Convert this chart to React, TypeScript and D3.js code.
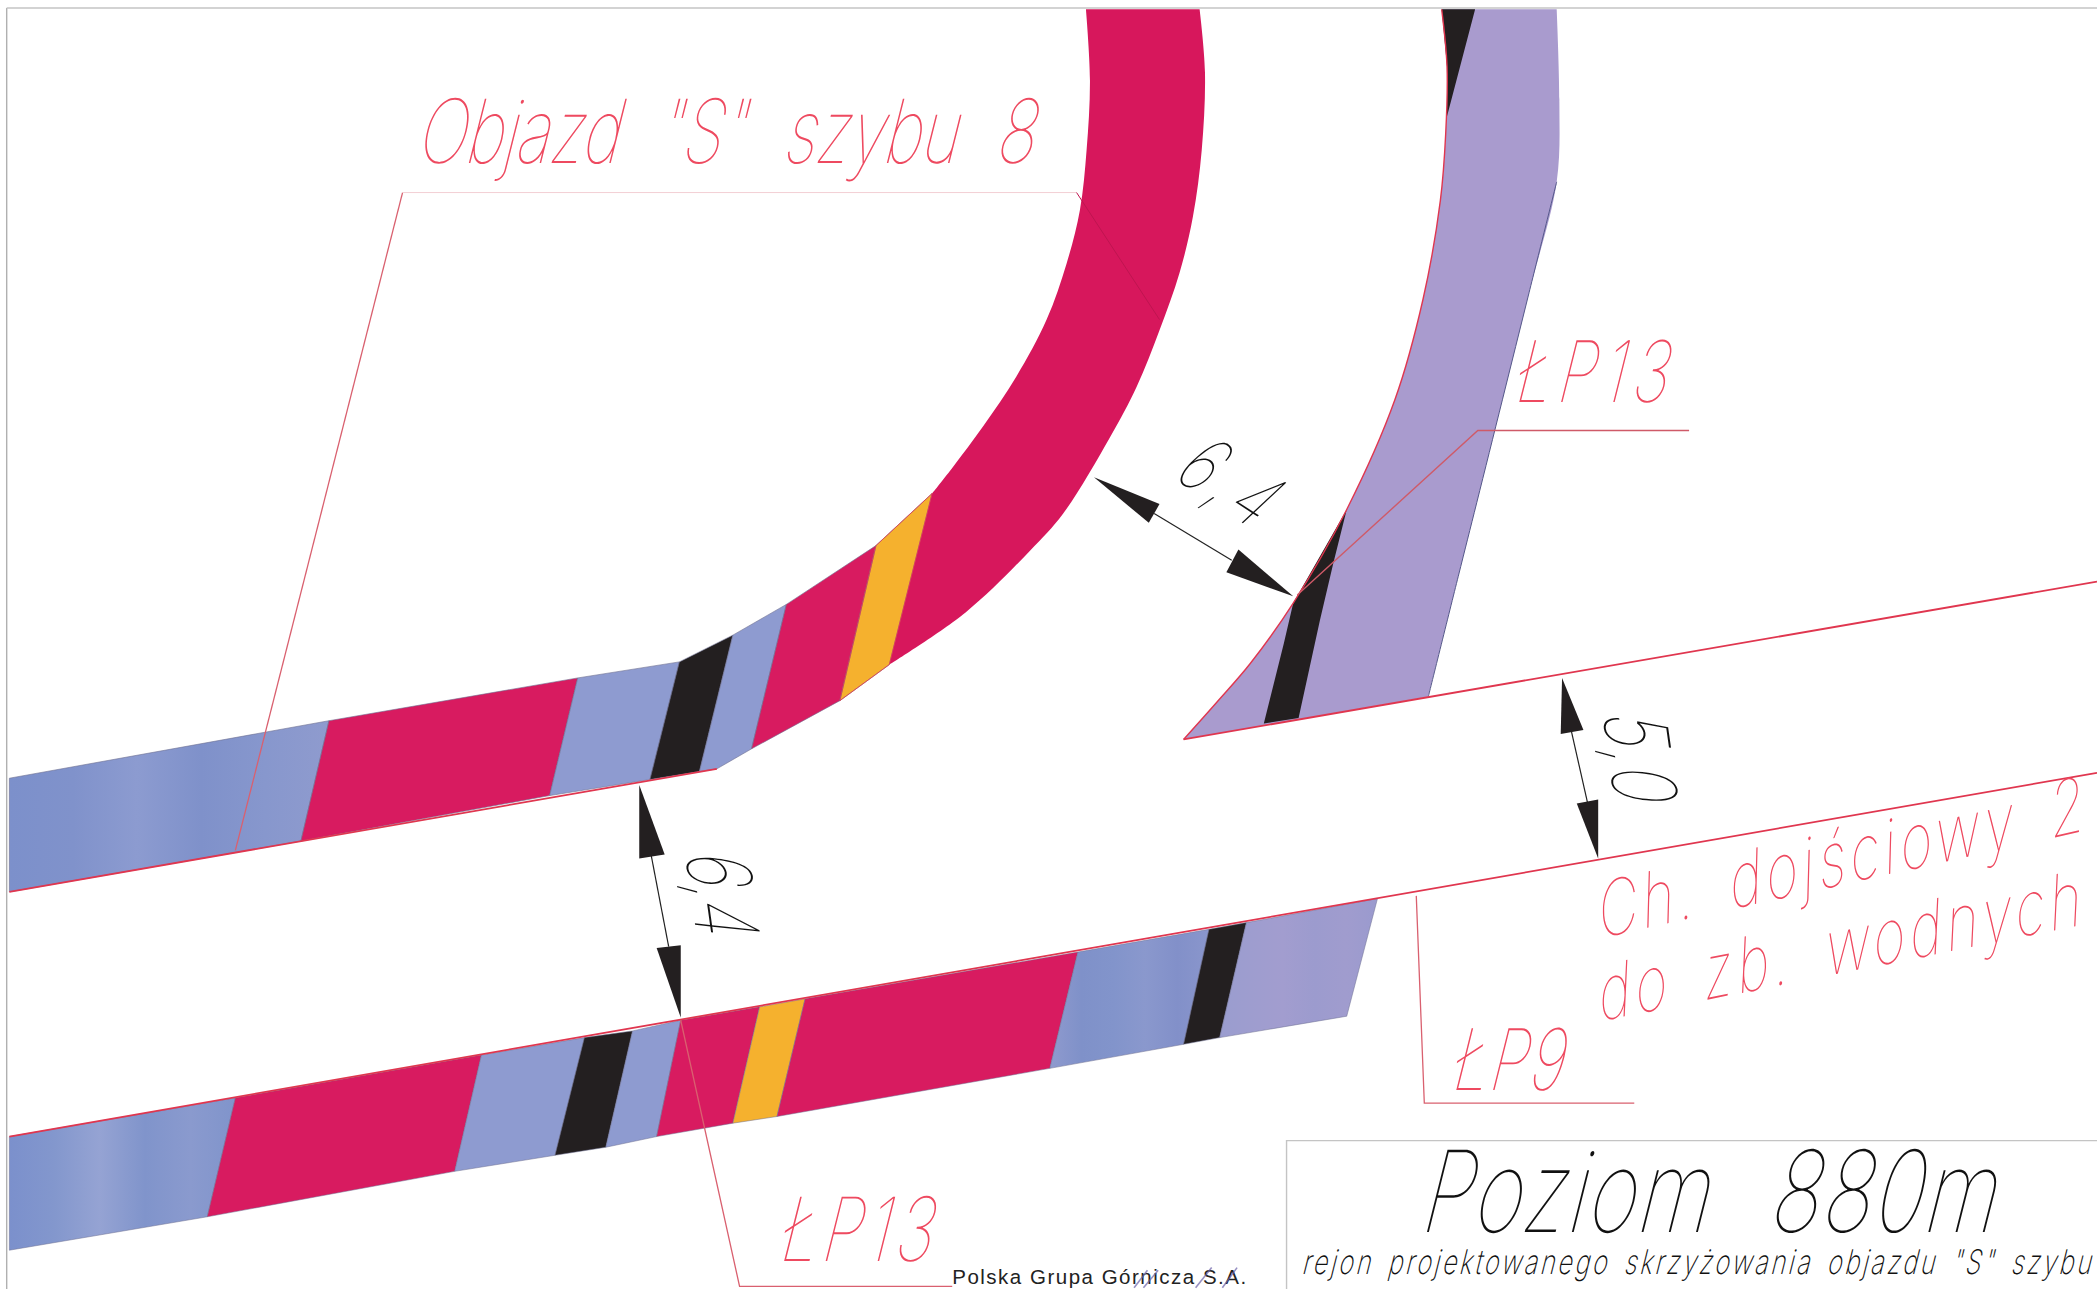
import React from "react";
import * as d3 from "d3";

type P = [number, number];

// ---- drawing units (map units)
const DOMAIN_W = 1568;
const DOMAIN_H = 964;

const crimson = "#d81b60";
const crimsonDeep = "#d7175c";
const blue = "#8e9bd0";
const lavender = "#a99bce";
const orange = "#f5b12e";
const black = "#231f20";
const redLine = "#e0364f";
const textRed = "#ee4a60";

// upper road bands
const upperBands: { c: string; pts: P[] }[] = [
  { c: "url(#bandBlueA)", pts: [[7, 582], [246, 539], [225, 629], [7, 667]] },
  { c: crimson, pts: [[246, 539], [432, 507], [411, 595], [225, 629]] },
  { c: blue, pts: [[432, 507], [508, 495], [486, 583], [411, 595]] },
  { c: black, pts: [[508, 495], [548, 475], [523, 577], [486, 583]] },
  { c: blue, pts: [[548, 475], [588, 452], [562, 560], [536, 575], [523, 577]] },
  { c: crimson, pts: [[588, 452], [655, 408], [628, 524], [562, 560]] },
  { c: orange, pts: [[655, 408], [697, 369], [665, 497], [628, 524]] },
];
const upperCurveInner: P[] = [[697, 369], [712.7, 349], [735, 319], [760, 281.6], [782.6, 239], [797.6, 196.8], [807.5, 157], [812.5, 112], [815, 60], [812, 7]];
const upperCurveOuter: P[] = [[897, 7], [901, 54], [898.6, 112], [892, 162], [882, 204], [867, 247], [850, 289], [830, 327], [795, 384], [770, 412], [722, 458], [665, 497]];

// lower road bands
const lowerBands: { c: string; pts: P[] }[] = [
  { c: "url(#bandBlueB)", pts: [[7, 850], [176, 821], [155, 910], [7, 935]] },
  { c: crimson, pts: [[176, 821], [360, 789], [340, 876], [155, 910]] },
  { c: blue, pts: [[360, 789], [437, 776], [415, 864], [340, 876]] },
  { c: black, pts: [[437, 776], [473, 771], [453, 858], [415, 864]] },
  { c: blue, pts: [[473, 771], [509, 763], [491, 850], [453, 858]] },
  { c: crimson, pts: [[509, 763], [568, 753], [548, 840], [491, 850]] },
  { c: orange, pts: [[568, 753], [602, 747], [581, 835], [548, 840]] },
  { c: crimson, pts: [[602, 747], [806, 712], [785, 799], [581, 835]] },
  { c: "url(#bandBlueC)", pts: [[806, 712], [904, 695], [885, 781], [785, 799]] },
  { c: black, pts: [[904, 695], [932, 690], [912, 776], [885, 781]] },
  { c: "url(#bandBlueD)", pts: [[932, 690], [1030, 672], [1007, 760], [912, 776]] },
];

// right road
const rightLeftEdge: P[] = [[1078, 7], [1082, 50], [1081, 100], [1077, 150], [1064, 224], [1043, 299], [1007, 381], [967, 451], [935, 496], [910, 525], [885, 553]];
const rightRightEdge: P[] = [[1068, 521], [1090.4, 431], [1104.2, 376], [1123.4, 299], [1143.3, 219], [1164, 136], [1166, 75], [1164, 7]];
const rightBlackTop: P[] = [[1078, 7], [1103, 7], [1082, 87], [1082, 50]];
const rightBlackLow: P[] = [[1007, 381], [997, 421], [987, 463.6], [971, 537], [945, 541], [960, 481], [967, 451]];

// red lines
const redEdges: P[][] = [
  [[7, 667], [536, 575]],
  [[7, 850], [1568, 578]],
  [[885, 553], [1568, 435]],
];
const leaders: { pts: P[]; c: string; w: number }[] = [
  { pts: [[176, 636], [301, 144]], c: "#d9606f", w: 1.3 },
  { pts: [[301, 144], [805, 144]], c: "#f3cfd4", w: 1 },
  { pts: [[805, 144], [867, 239]], c: "#bf1450", w: 1 },
  { pts: [[1263, 322], [1105, 322], [970, 445]], c: "#cf5a68", w: 1.4 },
  { pts: [[1059, 670], [1065, 825], [1222, 825]], c: "#d9606f", w: 1.3 },
  { pts: [[509, 763], [553, 962], [712, 962]], c: "#d9606f", w: 1.3 },
];
const frameLines: P[][] = [
  [[5, 6], [5, 964]],
  [[5, 6], [1568, 6]],
  [[962, 964], [962, 853], [1568, 853]],
];

// dimension arrows: tip, base corner, base corner
const arrowHeads: P[][] = [
  [[818, 357], [867, 377], [859, 391]],
  [[967, 446], [926, 411], [917, 428]],
  [[478, 587], [478, 642], [497, 639]],
  [[509, 761], [491, 709], [509, 707]],
  [[1168, 507], [1167, 549], [1184, 546]],
  [[1195, 642], [1179, 601], [1195, 598]],
];
const dimLines: P[][] = [
  [[863, 384], [921, 419]],
  [[487, 640], [500, 708]],
  [[1175, 547], [1187, 600]],
];

// logo pen marks
const penMarks: P[][] = [
  [[848, 963], [858, 950]],
  [[855, 963], [866, 950]],
  [[894, 963], [906, 948]],
  [[914, 963], [925, 948]],
];

// labels
const labelTexts = [
  'Objazd "S" szybu 8', "ŁP13", "6,4", "6,4", "5,0",
  "Ch. dojściowy 2", "do zb. wodnych", "ŁP9", "ŁP13",
  "Poziom 880m", 'rejon projektowanego skrzyżowania objazdu "S" szybu',
];
const labelX = [310, 1130, 875, 512, 1198, 1195, 1195, 1083, 580, 1060, 973];
const labelY = [122, 301, 356, 636, 532, 702, 764, 815, 943, 921, 953];
const labelRot = [0, 0, 33, 82, 82, -12.5, -11.3, 0, 0, 0, 0];
const labelCap = [47, 45, 42, 46, 46, 40, 40, 45, 47, 60, 18];
const labelLen = [462, 115, 72, 64, 68, 372, 368, 84, 115, 430, 590];
const labelDark = [false, false, true, true, true, false, false, false, false, true, true];
const labelWordGap = [0.32, 0, 0, 0, 0, 0.22, 0.22, 0, 0, 0.4, 0.2];
const labelWeight = [100, 100, 100, 100, 100, 100, 100, 100, 100, 100, 200];

const logoText = "Polska Grupa Górnicza S.A.";

const gradA = ["#7c90cb", "#8092cb", "#8c9bd0", "#7f91ca", "#8797cd", "#8f9bce"];
const gradB = ["#7b90cc", "#8397cd", "#95a3d3", "#8094cb", "#8a9ace", "#8094cb"];
const gradC = ["#8f9ace", "#7f91c9", "#8294cb", "#8a98cd", "#8290c9", "#8a96cc"];
const gradD = ["#9a9dcf", "#9e9dcf", "#a29dcf", "#9c9bce", "#a09cce", "#9a9ace"];

export default function App() {
  const x = d3.scaleLinear().domain([0, DOMAIN_W]).range([0, 2097]);
  const y = d3.scaleLinear().domain([0, DOMAIN_H]).range([0, 1289]);
  const straight = d3.line<P>().x((d) => x(d[0])).y((d) => y(d[1]));
  const smooth = d3.line<P>().x((d) => x(d[0])).y((d) => y(d[1])).curve(d3.curveCatmullRom.alpha(0.5));
  const poly = (pts: P[]) => straight(pts) + "Z";
  const curveBand = (a: P[], b: P[]) => (smooth(a) as string) + "L" + (smooth(b) as string).slice(1) + "Z";

  const grad = (id: string, cols: string[]) => (
    <linearGradient id={id} x1="0" x2="1" y1="0" y2="0">
      {cols.map((c, i) => (
        <stop key={i} offset={i / (cols.length - 1)} stopColor={c} />
      ))}
    </linearGradient>
  );

  return (
    <svg width={2097} height={1289} style={{ position: "absolute", left: 0, top: 0, background: "#fff" }}>
      <defs>
        {grad("bandBlueA", gradA)}
        {grad("bandBlueB", gradB)}
        {grad("bandBlueC", gradC)}
        {grad("bandBlueD", gradD)}
      </defs>

      {frameLines.map((l, i) => (
        <path key={i} d={straight(l) as string} fill="none" stroke={i === 0 ? "#b0b0b0" : "#c4c4c4"} strokeWidth={1.4} />
      ))}

      {upperBands.map((b, i) => (
        <path key={i} d={poly(b.pts)} fill={b.c} stroke="#6d6f90" strokeWidth={0.6} />
      ))}
      <path d={curveBand(upperCurveInner, upperCurveOuter)} fill={crimsonDeep} />
      <path d={poly(upperBands[6].pts)} fill="none" stroke={redLine} strokeWidth={0.8} />

      {lowerBands.map((b, i) => (
        <path key={i} d={poly(b.pts)} fill={b.c} stroke="#6d6f90" strokeWidth={0.5} />
      ))}

      <path d={curveBand(rightLeftEdge, rightRightEdge)} fill={lavender} />
      <path d={poly(rightBlackTop)} fill={black} />
      <path d={poly(rightBlackLow)} fill={black} />
      <path d={smooth(rightLeftEdge) as string} fill="none" stroke={redLine} strokeWidth={1.4} />
      <path d={smooth(rightRightEdge.slice(0, 6)) as string} fill="none" stroke="#55588a" strokeWidth={1} />

      {redEdges.map((l, i) => (
        <path key={i} d={straight(l) as string} fill="none" stroke={redLine} strokeWidth={1.8} />
      ))}
      {leaders.map((l, i) => (
        <path key={i} d={straight(l.pts) as string} fill="none" stroke={l.c} strokeWidth={l.w} />
      ))}

      {dimLines.map((l, i) => (
        <path key={i} d={straight(l) as string} fill="none" stroke="#222" strokeWidth={1.2} />
      ))}
      {arrowHeads.map((a, i) => (
        <path key={i} d={poly(a)} fill={black} />
      ))}

      {labelTexts.map((t, i) => {
        const fs = (labelCap[i] * 1.3374) / 0.71;
        const sxk = 0.74;
        return (
          <text
            key={i}
            transform={`translate(${x(labelX[i])},${y(labelY[i])}) rotate(${labelRot[i]}) skewX(-14) scale(${sxk},1)`}
            textLength={(labelLen[i] * 1.3374) / sxk}
            lengthAdjust="spacing"
            fontFamily="Inter, Roboto, sans-serif"
            fontWeight={labelWeight[i]}
            fontSize={fs}
            wordSpacing={labelWordGap[i] * fs}
            fill={labelDark[i] ? "#111" : textRed}
          >
            {t}
          </text>
        );
      })}

      <text x={x(712)} y={y(960)} fontFamily="Liberation Sans, sans-serif" fontSize={20.5} fill="#222" textLength={294} lengthAdjust="spacing">
        {logoText}
      </text>
      {penMarks.map((l, i) => (
        <path key={i} d={straight(l) as string} fill="none" stroke="#6a5fa8" strokeWidth={1.6} opacity={0.7} />
      ))}
    </svg>
  );
}
